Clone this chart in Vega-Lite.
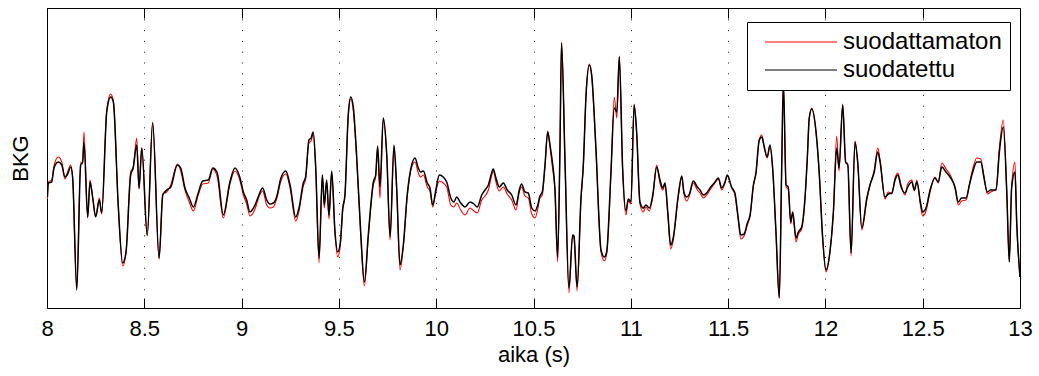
{
"$schema":"https://vega.github.io/schema/vega-lite/v6.json",
"width":973,"height":300,
"autosize":{"type":"none"},
"padding":{"left":47,"top":8,"right":19,"bottom":68},
"background":"white",
"config":{"font":"Liberation Sans","view":{"stroke":"black","strokeWidth":1}},
"data":{"values":[
{"t":8.002,"f":111,"u":109},{"t":8.007,"f":125,"u":126},{"t":8.024,"f":126,"u":128},{"t":8.036,"f":140,"u":142},{"t":8.058,"f":146,"u":151},{"t":8.076,"f":143,"u":146},{"t":8.092,"f":131,"u":129},{"t":8.104,"f":133,"u":135},{"t":8.122,"f":141,"u":143},{"t":8.132,"f":130,"u":129},
{"t":8.153,"f":18,"u":20},{"t":8.173,"f":143,"u":146},{"t":8.183,"f":146,"u":144},{"t":8.190,"f":166,"u":176},{"t":8.209,"f":91,"u":90},{"t":8.221,"f":126,"u":128},{"t":8.235,"f":110,"u":110},{"t":8.250,"f":91,"u":92},{"t":8.269,"f":108,"u":110},{"t":8.281,"f":95,"u":94},
{"t":8.307,"f":196,"u":198},{"t":8.327,"f":211,"u":214},{"t":8.341,"f":206,"u":207},{"t":8.366,"f":103,"u":102},{"t":8.389,"f":45,"u":42},{"t":8.406,"f":56,"u":55},{"t":8.430,"f":133,"u":136},{"t":8.443,"f":140,"u":141},{"t":8.461,"f":163,"u":170},{"t":8.473,"f":120,"u":119},
{"t":8.487,"f":160,"u":160},{"t":8.515,"f":73,"u":72},{"t":8.543,"f":185,"u":186},{"t":8.576,"f":50,"u":49},{"t":8.595,"f":113,"u":114},{"t":8.615,"f":118,"u":116},{"t":8.636,"f":121,"u":123},{"t":8.670,"f":143,"u":144},{"t":8.687,"f":140,"u":137},{"t":8.709,"f":120,"u":118},
{"t":8.731,"f":110,"u":106},{"t":8.752,"f":101,"u":97},{"t":8.777,"f":115,"u":113},{"t":8.800,"f":127,"u":124},{"t":8.829,"f":128,"u":125},{"t":8.852,"f":140,"u":139},{"t":8.875,"f":135,"u":131},{"t":8.906,"f":93,"u":90},{"t":8.940,"f":126,"u":124},{"t":8.966,"f":140,"u":137},
{"t":8.992,"f":130,"u":127},{"t":9.009,"f":116,"u":113},{"t":9.026,"f":108,"u":104},{"t":9.043,"f":96,"u":92},{"t":9.069,"f":103,"u":99},{"t":9.089,"f":113,"u":111},{"t":9.108,"f":120,"u":117},{"t":9.129,"f":108,"u":103},{"t":9.146,"f":104,"u":100},{"t":9.163,"f":105,"u":101},
{"t":9.180,"f":111,"u":109},{"t":9.202,"f":130,"u":127},{"t":9.227,"f":137,"u":134},{"t":9.249,"f":123,"u":120},{"t":9.278,"f":91,"u":87},{"t":9.295,"f":100,"u":97},{"t":9.317,"f":125,"u":122},{"t":9.329,"f":131,"u":129},{"t":9.346,"f":168,"u":165},{"t":9.357,"f":170,"u":167},
{"t":9.368,"f":176,"u":174},{"t":9.381,"f":140,"u":138},{"t":9.398,"f":50,"u":45},{"t":9.415,"f":133,"u":133},{"t":9.425,"f":103,"u":100},{"t":9.437,"f":128,"u":126},{"t":9.449,"f":93,"u":89},{"t":9.463,"f":137,"u":135},{"t":9.480,"f":76,"u":74},{"t":9.494,"f":56,"u":51},
{"t":9.507,"f":65,"u":62},{"t":9.520,"f":100,"u":98},{"t":9.531,"f":113,"u":112},{"t":9.548,"f":193,"u":192},{"t":9.561,"f":211,"u":209},{"t":9.574,"f":201,"u":197},{"t":9.591,"f":153,"u":150},{"t":9.612,"f":76,"u":73},{"t":9.631,"f":26,"u":22},{"t":9.651,"f":73,"u":71},
{"t":9.677,"f":126,"u":123},{"t":9.689,"f":133,"u":131},{"t":9.699,"f":162,"u":160},{"t":9.711,"f":121,"u":110},{"t":9.728,"f":190,"u":188},{"t":9.746,"f":153,"u":151},{"t":9.763,"f":71,"u":68},{"t":9.783,"f":163,"u":161},{"t":9.797,"f":120,"u":117},{"t":9.814,"f":43,"u":38},
{"t":9.831,"f":63,"u":61},{"t":9.851,"f":113,"u":111},{"t":9.874,"f":143,"u":141},{"t":9.891,"f":150,"u":146},{"t":9.908,"f":140,"u":135},{"t":9.920,"f":136,"u":131},{"t":9.934,"f":137,"u":133},{"t":9.954,"f":125,"u":121},{"t":9.968,"f":120,"u":117},{"t":9.982,"f":103,"u":101},
{"t":9.999,"f":119,"u":117},{"t":10.016,"f":133,"u":127},{"t":10.036,"f":131,"u":125},{"t":10.054,"f":126,"u":121},{"t":10.075,"f":110,"u":103},{"t":10.091,"f":106,"u":101},{"t":10.105,"f":111,"u":105},{"t":10.126,"f":105,"u":98},{"t":10.148,"f":101,"u":93},{"t":10.174,"f":106,"u":100},
{"t":10.194,"f":104,"u":97},{"t":10.211,"f":101,"u":95},{"t":10.234,"f":113,"u":108},{"t":10.251,"f":118,"u":112},{"t":10.268,"f":123,"u":118},{"t":10.282,"f":133,"u":130},{"t":10.293,"f":139,"u":137},{"t":10.307,"f":130,"u":126},{"t":10.324,"f":121,"u":117},{"t":10.345,"f":125,"u":121},
{"t":10.365,"f":118,"u":114},{"t":10.388,"f":113,"u":108},{"t":10.410,"f":103,"u":98},{"t":10.427,"f":118,"u":116},{"t":10.439,"f":124,"u":121},{"t":10.456,"f":116,"u":112},{"t":10.473,"f":115,"u":110},{"t":10.491,"f":100,"u":94},{"t":10.508,"f":97,"u":90},{"t":10.522,"f":103,"u":99},
{"t":10.533,"f":112,"u":110},{"t":10.545,"f":116,"u":113},{"t":10.559,"f":143,"u":141},{"t":10.573,"f":176,"u":177},{"t":10.585,"f":163,"u":160},{"t":10.597,"f":146,"u":141},{"t":10.610,"f":120,"u":117},{"t":10.624,"f":51,"u":46},{"t":10.636,"f":160,"u":160},{"t":10.644,"f":265,"u":266},
{"t":10.662,"f":146,"u":146},{"t":10.682,"f":20,"u":15},{"t":10.701,"f":73,"u":72},{"t":10.708,"f":72,"u":70},{"t":10.724,"f":21,"u":17},{"t":10.744,"f":110,"u":108},{"t":10.756,"f":143,"u":142},{"t":10.770,"f":213,"u":213},{"t":10.787,"f":243,"u":244},{"t":10.799,"f":233,"u":232},
{"t":10.820,"f":163,"u":161},{"t":10.847,"f":58,"u":56},{"t":10.864,"f":51,"u":47},{"t":10.876,"f":56,"u":54},{"t":10.898,"f":136,"u":134},{"t":10.915,"f":200,"u":211},{"t":10.928,"f":196,"u":190},{"t":10.941,"f":251,"u":252},{"t":10.958,"f":140,"u":138},{"t":10.975,"f":97,"u":93},
{"t":10.987,"f":109,"u":107},{"t":11.001,"f":106,"u":104},{"t":11.017,"f":203,"u":204},{"t":11.030,"f":176,"u":175},{"t":11.047,"f":106,"u":104},{"t":11.064,"f":100,"u":96},{"t":11.078,"f":103,"u":101},{"t":11.095,"f":100,"u":97},{"t":11.113,"f":113,"u":111},{"t":11.133,"f":141,"u":143},
{"t":11.150,"f":128,"u":125},{"t":11.164,"f":120,"u":118},{"t":11.176,"f":125,"u":123},{"t":11.190,"f":96,"u":94},{"t":11.205,"f":63,"u":59},{"t":11.218,"f":70,"u":68},{"t":11.244,"f":113,"u":111},{"t":11.262,"f":132,"u":131},{"t":11.273,"f":116,"u":114},{"t":11.287,"f":111,"u":107},
{"t":11.301,"f":114,"u":112},{"t":11.321,"f":127,"u":125},{"t":11.342,"f":121,"u":118},{"t":11.356,"f":118,"u":115},{"t":11.373,"f":113,"u":110},{"t":11.390,"f":115,"u":113},{"t":11.407,"f":120,"u":118},{"t":11.429,"f":125,"u":124},{"t":11.450,"f":130,"u":129},{"t":11.467,"f":120,"u":118},
{"t":11.484,"f":126,"u":125},{"t":11.496,"f":133,"u":132},{"t":11.518,"f":121,"u":120},{"t":11.535,"f":115,"u":113},{"t":11.552,"f":90,"u":88},{"t":11.565,"f":73,"u":69},{"t":11.582,"f":74,"u":72},{"t":11.599,"f":85,"u":83},{"t":11.613,"f":93,"u":92},{"t":11.630,"f":123,"u":122},
{"t":11.643,"f":135,"u":134},{"t":11.660,"f":168,"u":168},{"t":11.673,"f":171,"u":173},{"t":11.686,"f":161,"u":160},{"t":11.701,"f":151,"u":150},{"t":11.715,"f":163,"u":162},{"t":11.729,"f":140,"u":138},{"t":11.746,"f":76,"u":75},{"t":11.763,"f":10,"u":10},{"t":11.775,"f":136,"u":134},
{"t":11.784,"f":226,"u":226},{"t":11.798,"f":123,"u":121},{"t":11.809,"f":121,"u":119},{"t":11.822,"f":86,"u":84},{"t":11.832,"f":96,"u":95},{"t":11.849,"f":70,"u":66},{"t":11.861,"f":76,"u":74},{"t":11.878,"f":81,"u":79},{"t":11.895,"f":110,"u":108},{"t":11.907,"f":150,"u":149},
{"t":11.917,"f":190,"u":190},{"t":11.930,"f":199,"u":200},{"t":11.952,"f":176,"u":175},{"t":11.969,"f":133,"u":132},{"t":11.985,"f":73,"u":72},{"t":12.003,"f":38,"u":36},{"t":12.023,"f":56,"u":55},{"t":12.041,"f":96,"u":95},{"t":12.058,"f":160,"u":172},{"t":12.070,"f":140,"u":137},
{"t":12.089,"f":203,"u":204},{"t":12.104,"f":146,"u":145},{"t":12.115,"f":143,"u":145},{"t":12.132,"f":55,"u":52},{"t":12.152,"f":166,"u":167},{"t":12.166,"f":146,"u":145},{"t":12.187,"f":80,"u":78},{"t":12.213,"f":110,"u":108},{"t":12.229,"f":123,"u":123},{"t":12.251,"f":136,"u":138},
{"t":12.269,"f":156,"u":160},{"t":12.281,"f":146,"u":148},{"t":12.306,"f":111,"u":109},{"t":12.323,"f":114,"u":116},{"t":12.341,"f":115,"u":114},{"t":12.358,"f":128,"u":130},{"t":12.372,"f":133,"u":135},{"t":12.389,"f":121,"u":123},{"t":12.409,"f":115,"u":113},{"t":12.423,"f":121,"u":124},
{"t":12.444,"f":126,"u":128},{"t":12.457,"f":118,"u":117},{"t":12.470,"f":126,"u":128},{"t":12.489,"f":105,"u":102},{"t":12.500,"f":96,"u":92},{"t":12.517,"f":100,"u":97},{"t":12.538,"f":118,"u":116},{"t":12.563,"f":130,"u":131},{"t":12.580,"f":126,"u":125},{"t":12.598,"f":141,"u":145},
{"t":12.620,"f":136,"u":139},{"t":12.644,"f":130,"u":132},{"t":12.666,"f":121,"u":120},{"t":12.683,"f":106,"u":103},{"t":12.700,"f":110,"u":107},{"t":12.723,"f":110,"u":108},{"t":12.740,"f":123,"u":124},{"t":12.757,"f":136,"u":139},{"t":12.778,"f":146,"u":150},{"t":12.798,"f":146,"u":149},
{"t":12.815,"f":130,"u":132},{"t":12.832,"f":116,"u":114},{"t":12.849,"f":118,"u":116},{"t":12.877,"f":118,"u":119},{"t":12.894,"f":156,"u":160},{"t":12.914,"f":181,"u":188},{"t":12.932,"f":116,"u":116},{"t":12.945,"f":46,"u":47},{"t":12.957,"f":120,"u":122},{"t":12.974,"f":136,"u":146},
{"t":12.983,"f":86,"u":86},{"t":13.000,"f":31,"u":31}
]},
"layer":[
{"mark":{"type":"line","strokeWidth":1.1,"clip":true,"interpolate":"monotone"},
 "encoding":{
  "x":{"field":"t","type":"quantitative","scale":{"domain":[8,13],"nice":false,"zero":false},
   "axis":{"orient":"bottom","values":[8,8.5,9,9.5,10,10.5,11,11.5,12,12.5,13],"format":"~g","title":"aika (s)","titleFontSize":22,"titleFontWeight":"normal","titleColor":"black","titlePadding":5,
    "labelFontSize":22,"labelColor":"black","labelPadding":20,"labelFlush":false,"tickSize":-10,"tickColor":"black","domain":false,
    "grid":true,"gridColor":"black","gridDash":[1,9.8],"gridWidth":1,"gridOpacity":0.9}},
  "y":{"field":"u","type":"quantitative","scale":{"domain":[0,300],"nice":false},
   "axis":{"title":"BKG","titleFontSize":22,"titleFontWeight":"normal","titleColor":"black","labels":false,"ticks":false,"domain":false,"grid":false,"titlePadding":15}},
  "color":{"datum":"suodattamaton","type":"nominal","scale":{"domain":["suodattamaton","suodatettu"],"range":["#ff0000","#000000"]},
   "legend":{"orient":"none","legendX":700,"legendY":14,"title":null,"symbolType":"M-4,0H4","symbolSize":324,"symbolStrokeWidth":1,"symbolOffset":34,"labelOffset":30,"labelFontSize":24,"labelColor":"black","labelLimit":400,"padding":8,"rowPadding":4,"strokeColor":"black","fillColor":"white"}}
 }},
{"mark":{"type":"line","strokeWidth":1.5,"clip":true,"interpolate":"monotone"},
 "encoding":{
  "x":{"field":"t","type":"quantitative",
   "axis":{"orient":"top","values":[8,8.5,9,9.5,10,10.5,11,11.5,12,12.5,13],"title":null,"labels":false,"tickSize":-10,"tickColor":"black","domain":false,"grid":false}},
  "y":{"field":"f","type":"quantitative"},
  "color":{"datum":"suodatettu","type":"nominal"}
 }}
],
"resolve":{"axis":{"x":"independent"}}
}
